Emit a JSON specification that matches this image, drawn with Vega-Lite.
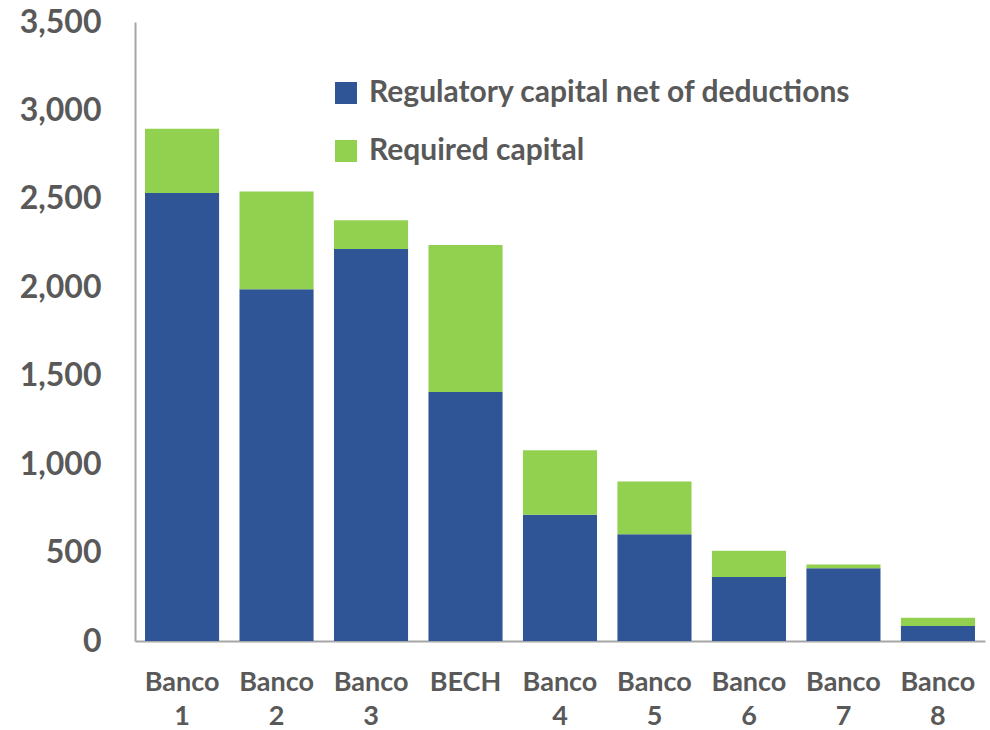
{
  "$schema": "https://vega.github.io/schema/vega-lite/v6.json",
  "width": 850,
  "height": 619,
  "autosize": {"type": "none"},
  "padding": {"left": 135, "top": 22, "right": 5, "bottom": 89},
  "background": "white",
  "config": {
    "view": {"stroke": null},
    "font": "Lato"
  },
  "data": {
    "values": [
      {"bank": "Banco 1", "series": "Regulatory capital net of deductions", "value": 2533},
      {"bank": "Banco 1", "series": "Required capital", "value": 364},
      {"bank": "Banco 2", "series": "Regulatory capital net of deductions", "value": 1989},
      {"bank": "Banco 2", "series": "Required capital", "value": 553},
      {"bank": "Banco 3", "series": "Regulatory capital net of deductions", "value": 2216},
      {"bank": "Banco 3", "series": "Required capital", "value": 163},
      {"bank": "BECH", "series": "Regulatory capital net of deductions", "value": 1408},
      {"bank": "BECH", "series": "Required capital", "value": 831},
      {"bank": "Banco 4", "series": "Regulatory capital net of deductions", "value": 714},
      {"bank": "Banco 4", "series": "Required capital", "value": 365},
      {"bank": "Banco 5", "series": "Regulatory capital net of deductions", "value": 603},
      {"bank": "Banco 5", "series": "Required capital", "value": 299},
      {"bank": "Banco 6", "series": "Regulatory capital net of deductions", "value": 362},
      {"bank": "Banco 6", "series": "Required capital", "value": 148},
      {"bank": "Banco 7", "series": "Regulatory capital net of deductions", "value": 411},
      {"bank": "Banco 7", "series": "Required capital", "value": 22},
      {"bank": "Banco 8", "series": "Regulatory capital net of deductions", "value": 85},
      {"bank": "Banco 8", "series": "Required capital", "value": 47}
    ]
  },
  "mark": {"type": "bar"},
  "encoding": {
    "x": {
      "field": "bank",
      "type": "nominal",
      "sort": null,
      "title": null,
      "scale": {"paddingInner": 0.216, "paddingOuter": 0.106},
      "axis": {
        "labelExpr": "split(datum.label, ' ')",
        "labelAngle": 0,
        "labelFont": "Lato",
        "labelFontWeight": "bold",
        "labelFontSize": 27,
        "labelColor": "#595959",
        "labelPadding": 28,
        "labelLineHeight": 34,
        "labelBaseline": "top",
        "ticks": false,
        "domainColor": "#A6A6A6",
        "domainWidth": 2
      }
    },
    "y": {
      "field": "value",
      "type": "quantitative",
      "stack": "zero",
      "title": null,
      "scale": {"domain": [0, 3500], "nice": false},
      "axis": {
        "values": [0, 500, 1000, 1500, 2000, 2500, 3000, 3500],
        "format": ",d",
        "grid": false,
        "ticks": false,
        "labelFont": "Lato",
        "labelFontWeight": "bold",
        "labelFontSize": 32,
        "labelColor": "#595959",
        "labelPadding": 34,
        "domainColor": "#A6A6A6",
        "domainWidth": 2
      }
    },
    "color": {
      "field": "series",
      "type": "nominal",
      "sort": ["Regulatory capital net of deductions", "Required capital"],
      "scale": {
        "domain": ["Regulatory capital net of deductions", "Required capital"],
        "range": ["#2F5597", "#92D050"]
      },
      "legend": {
        "title": null,
        "orient": "none",
        "legendX": 196,
        "legendY": 56,
        "symbolType": "square",
        "symbolSize": 484,
        "symbolStrokeWidth": 0,
        "labelFont": "Lato",
        "labelFontWeight": "bold",
        "labelFontSize": 30,
        "labelColor": "#595959",
        "labelOffset": 8,
        "labelLimit": 700,
        "rowPadding": 28
      }
    },
    "order": {"field": "series", "sort": "ascending"}
  }
}
